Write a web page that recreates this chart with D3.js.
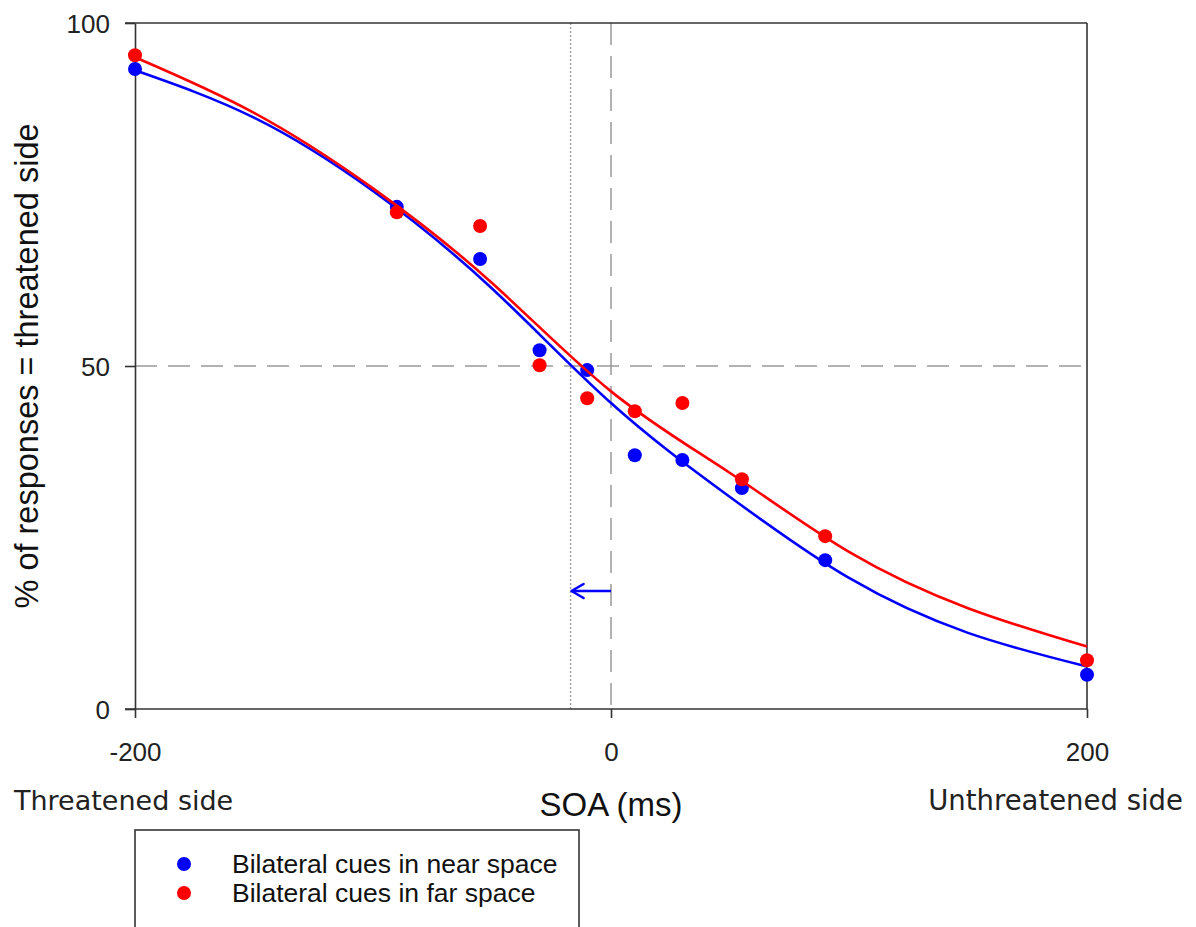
<!DOCTYPE html>
<html>
<head>
<meta charset="utf-8">
<script src="https://cdn.jsdelivr.net/npm/d3@7"></script>
<style>
  body { margin: 0; background: #fff; }
  svg { display: block; }
</style>
</head>
<body>
<svg id="chart" width="1196" height="927"></svg>
<script>
// ---- data ----
const soa = [-200, -90, -55, -30, -10, 10, 30, 55, 90, 200];
const nearValues = [93.3, 73.2, 65.6, 52.3, 49.4, 37.0, 36.3, 32.2, 21.7, 5.0];
const farValues  = [95.3, 72.4, 70.4, 50.1, 45.3, 43.4, 44.6, 33.5, 25.2, 7.1];

// fitted curves
const fitX    = [-200, -150, -100, -50, 0, 50, 100, 150, 200];
const nearFit = [93.1, 86.2, 75.5, 61.3, 44.6, 30.9, 19.1, 11.1, 6.2];
const farFit  = [95.0, 86.9, 75.9, 62.1, 46.3, 34.4, 22.9, 14.7, 9.1];

const xTicks = [-200, 0, 200];
const yTicks = [0, 50, 100];
const pseNear = -17;   // dotted line (point of subjective equality)
const refLevel = 50;

const seriesNames = ["Bilateral cues in near space", "Bilateral cues in far space"];
const seriesColors = ["#0000ff", "#ff0000"];

// ---- layout ----
const svg = d3.select("#chart");
const x = d3.scaleLinear().domain([-200, 200]).range([135, 1087]);
const y = d3.scaleLinear().domain([0, 100]).range([709, 23]);
const axisColor = "#333";
const tickFont = "'Liberation Sans', Arial, sans-serif";
const sideFont = "'DejaVu Sans', sans-serif";
const labelFont = "'Liberation Sans', Arial, sans-serif";

// reference lines
svg.append("line")
  .attr("x1", x(-200)).attr("x2", x(200))
  .attr("y1", y(refLevel)).attr("y2", y(refLevel))
  .attr("stroke", "#999").attr("stroke-width", 1.5)
  .attr("stroke-dasharray", "22,11");
svg.append("line")
  .attr("x1", x(0)).attr("x2", x(0))
  .attr("y1", y(100)).attr("y2", y(0))
  .attr("stroke", "#999").attr("stroke-width", 1.5)
  .attr("stroke-dasharray", "22,11");
svg.append("line")
  .attr("x1", x(pseNear)).attr("x2", x(pseNear))
  .attr("y1", y(100)).attr("y2", y(0))
  .attr("stroke", "#999").attr("stroke-width", 1.3)
  .attr("stroke-dasharray", "2,2");

// frame (top & right)
svg.append("line").attr("x1", x(-200) - 10).attr("x2", x(200))
  .attr("y1", y(100)).attr("y2", y(100))
  .attr("stroke", axisColor).attr("stroke-width", 1.6);
svg.append("line").attr("x1", x(200)).attr("x2", x(200))
  .attr("y1", y(100)).attr("y2", y(0))
  .attr("stroke", axisColor).attr("stroke-width", 1.6);

// axes
const xAxis = d3.axisBottom(x).tickValues(xTicks).tickSize(9).tickSizeOuter(0).tickFormat(d => String(d));
const gx = svg.append("g").attr("transform", `translate(0,${y(0)})`).call(xAxis);
gx.select(".domain").attr("stroke", axisColor).attr("stroke-width", 1.6)
  .attr("d", `M${x(-200) - 10},0H${x(200)}`);
gx.selectAll(".tick line").attr("stroke", axisColor).attr("stroke-width", 1.6);
gx.selectAll(".tick text").attr("font-family", tickFont).attr("font-size", 26)
  .attr("fill", "#222").attr("dy", "0").attr("y", 52);

const yAxis = d3.axisLeft(y).tickValues(yTicks).tickSize(10).tickSizeOuter(0).tickFormat(d => String(d));
const gy = svg.append("g").attr("transform", `translate(${x(-200)},0)`).call(yAxis);
gy.select(".domain").attr("stroke", axisColor).attr("stroke-width", 1.6);
gy.selectAll(".tick line").attr("stroke", axisColor).attr("stroke-width", 1.6);
gy.selectAll(".tick text").attr("font-family", tickFont).attr("font-size", 26)
  .attr("fill", "#222").attr("x", -25).attr("dy", "0.36em");

// curves and points
const line = d3.line().x(d => x(d[0])).y(d => y(d[1])).curve(d3.curveNatural);
const fits = [nearFit, farFit];
const vals = [nearValues, farValues];
[0, 1].forEach(i => {
  svg.append("path")
    .datum(fitX.map((v, j) => [v, fits[i][j]]))
    .attr("d", line).attr("fill", "none")
    .attr("stroke", seriesColors[i]).attr("stroke-width", 2.6);
  svg.append("g").selectAll("circle")
    .data(soa.map((v, j) => [v, vals[i][j]]))
    .join("circle")
    .attr("cx", d => x(d[0])).attr("cy", d => y(d[1])).attr("r", 7)
    .attr("fill", seriesColors[i]);
});

// arrow from 0 to the PSE
const ay = 591;
svg.append("line")
  .attr("x1", x(0)).attr("x2", x(pseNear) + 1)
  .attr("y1", ay).attr("y2", ay)
  .attr("stroke", "#0000ff").attr("stroke-width", 2.6);
svg.append("path")
  .attr("d", `M${x(pseNear) + 13},${ay - 7} L${x(pseNear) + 1},${ay} L${x(pseNear) + 13},${ay + 7}`)
  .attr("fill", "none").attr("stroke", "#0000ff").attr("stroke-width", 2.6)
  .attr("stroke-linecap", "round").attr("stroke-linejoin", "round");

// axis titles
svg.append("text").attr("x", x(0)).attr("y", 816).attr("text-anchor", "middle")
  .attr("font-family", labelFont).attr("font-size", 33).attr("fill", "#111")
  .text("SOA (ms)");
svg.append("text").attr("transform", `translate(38,${y(50)}) rotate(-90)`)
  .attr("text-anchor", "middle")
  .attr("font-family", labelFont).attr("font-size", 32.5).attr("fill", "#111")
  .text("% of responses = threatened side");
svg.append("text").attr("x", 14).attr("y", 810)
  .attr("font-family", sideFont).attr("font-size", 27).attr("fill", "#222")
  .text("Threatened  side");
svg.append("text").attr("x", 1183).attr("y", 810).attr("text-anchor", "end")
  .attr("font-family", sideFont).attr("font-size", 27.5).attr("fill", "#222")
  .text("Unthreatened  side");

// legend
svg.append("rect").attr("x", 135).attr("y", 830).attr("width", 444).attr("height", 120)
  .attr("fill", "#fff").attr("stroke", axisColor).attr("stroke-width", 1.6);
seriesNames.forEach((name, i) => {
  svg.append("circle").attr("cx", 184).attr("cy", 864 + i * 29).attr("r", 7)
    .attr("fill", seriesColors[i]);
  svg.append("text").attr("x", 232).attr("y", 873 + i * 29)
    .attr("font-family", labelFont).attr("font-size", 26.5).attr("fill", "#111")
    .text(name);
});
</script>
</body>
</html>
